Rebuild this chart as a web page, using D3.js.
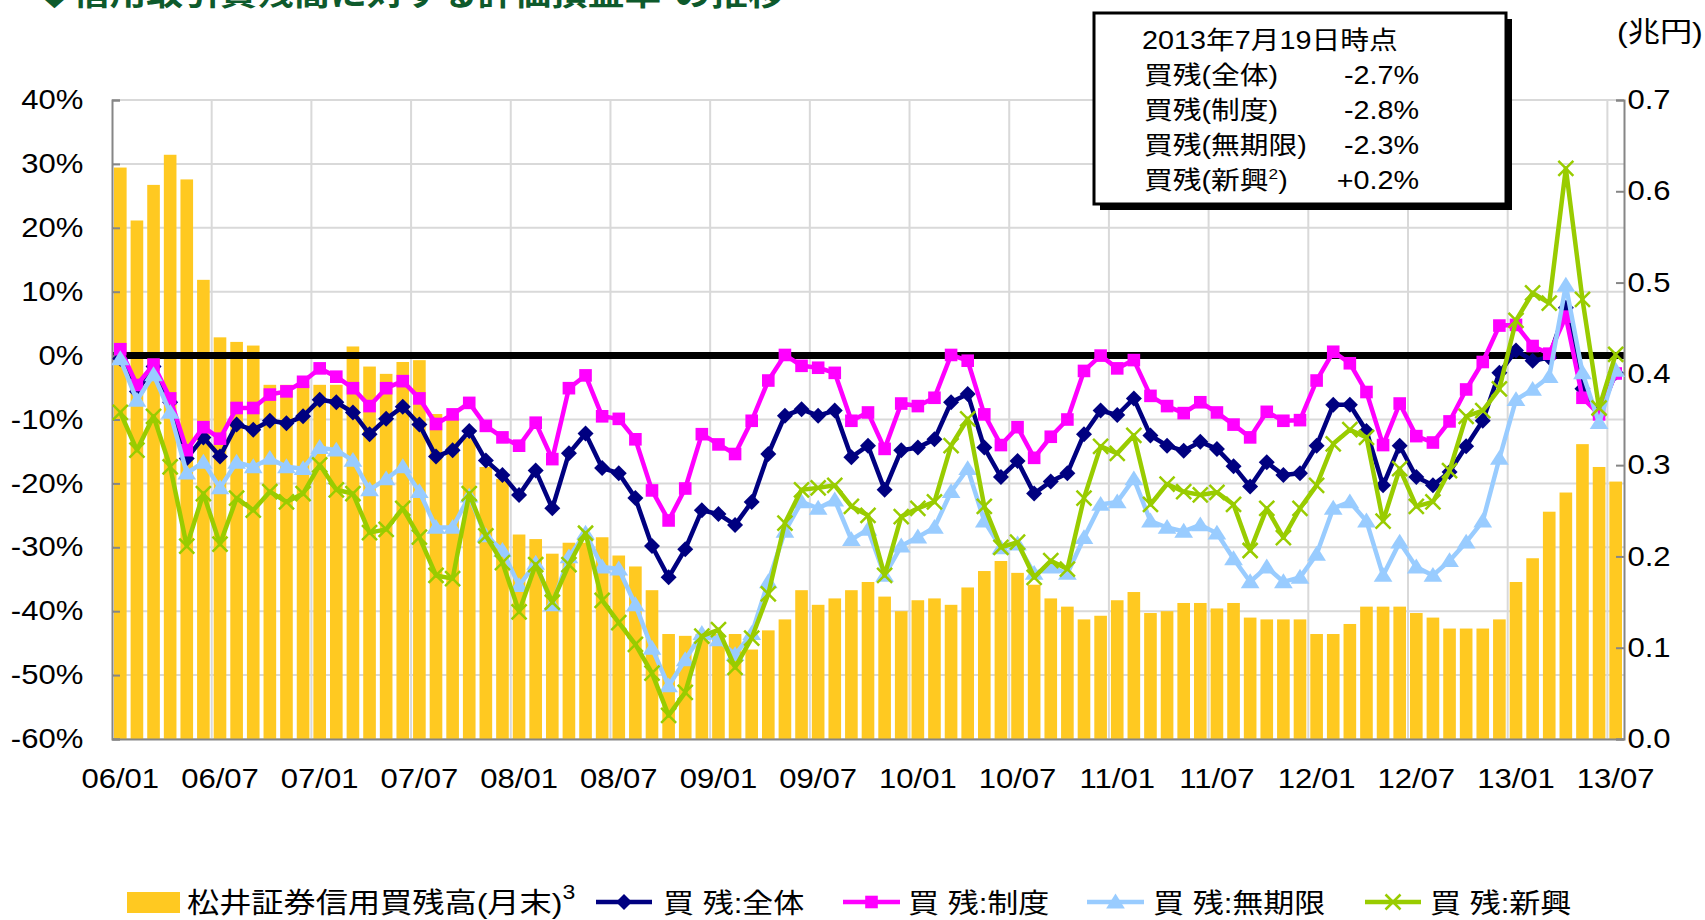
<!DOCTYPE html>
<html>
<head>
<meta charset="utf-8">
<script src="https://cdn.jsdelivr.net/npm/d3@7"></script>
<style>
  body { margin: 0; background: #fff; }
  svg text { font-family: "Liberation Sans", Arial, "Noto Sans CJK JP", sans-serif; fill: #000; }
</style>
</head>
<body>
<svg id="chart" width="1705" height="920"></svg>
<script>
'use strict';

// Month categories 06/01 .. 13/07
var months = [];
for (var yy = 6; yy <= 13; yy++) {
  for (var mm = 1; mm <= 12; mm++) {
    if (yy === 13 && mm > 7) break;
    months.push((yy < 10 ? "0" : "") + yy + "/" + (mm < 10 ? "0" : "") + mm);
  }
}

var tickLabels = ["06/01", "06/07", "07/01", "07/07", "08/01", "08/07", "09/01", "09/07",
  "10/01", "10/07", "11/01", "11/07", "12/01", "12/07", "13/01", "13/07"];

var leftTicks = [40, 30, 20, 10, 0, -10, -20, -30, -40, -50, -60];
var rightTicks = [0.7, 0.6, 0.5, 0.4, 0.3, 0.2, 0.1, 0.0];

// 松井証券信用買残高(月末) (兆円)
var balance = [
  0.626, 0.568, 0.607, 0.640, 0.613, 0.503, 0.440, 0.435, 0.431, 0.388, 0.388, 0.388,
  0.388, 0.388, 0.430, 0.408, 0.400, 0.413, 0.415, 0.356, 0.350, 0.330, 0.298, 0.285,
  0.224, 0.219, 0.203, 0.215, 0.215, 0.221, 0.201, 0.189, 0.163, 0.115, 0.113, 0.115,
  0.115, 0.115, 0.098, 0.119, 0.131, 0.163, 0.147, 0.154, 0.163, 0.172, 0.156, 0.140,
  0.152, 0.154, 0.147, 0.166, 0.184, 0.195, 0.182, 0.169, 0.154, 0.145, 0.131, 0.135,
  0.152, 0.161, 0.138, 0.140, 0.149, 0.149, 0.143, 0.149, 0.133, 0.131, 0.131, 0.131,
  0.115, 0.115, 0.126, 0.145, 0.145, 0.145, 0.138, 0.133, 0.121, 0.121, 0.121, 0.131,
  0.172, 0.198, 0.249, 0.270, 0.323, 0.298, 0.282
];

// 買残:全体 (%)
var zentai = [
  -0.5, -5.6, -1.7, -7.3, -16.1, -12.8, -15.8, -10.8, -11.6, -10.2, -10.6, -9.5,
  -6.9, -7.3, -8.9, -12.3, -9.9, -8.0, -10.8, -15.8, -14.8, -11.8, -16.4, -18.7,
  -21.8, -18.0, -23.9, -15.3, -12.2, -17.6, -18.4, -22.3, -29.8, -34.7, -30.3, -24.2,
  -24.8, -26.5, -22.9, -15.4, -9.4, -8.4, -9.4, -8.6, -15.9, -14.1, -21.0, -14.8,
  -14.4, -13.1, -7.3, -6.0, -14.4, -19.0, -16.5, -21.6, -19.7, -18.4, -12.3, -8.6,
  -9.3, -6.7, -12.5, -14.1, -14.9, -13.5, -14.6, -17.3, -20.5, -16.7, -18.7, -18.4,
  -14.1, -7.7, -7.7, -11.8, -20.3, -14.1, -19.0, -20.3, -18.2, -14.2, -10.2, -2.7,
  0.8, -0.8, -0.3, 7.5, -5.2, -9.2, -2.7
];

// 買残:制度 (%)
var seido = [
  1.0, -4.6, -1.4, -6.7, -14.8, -11.2, -13.0, -8.2, -8.2, -6.1, -5.6, -4.1,
  -2.0, -3.3, -5.1, -7.9, -5.1, -4.0, -6.7, -10.7, -9.2, -7.4, -11.0, -12.8,
  -14.1, -10.5, -16.2, -5.1, -3.1, -9.5, -9.9, -13.1, -21.1, -25.8, -20.8, -12.3,
  -13.9, -15.4, -10.2, -3.9, 0.1, -1.6, -1.9, -2.7, -10.2, -8.9, -14.6, -7.5,
  -7.9, -6.6, 0.1, -0.8, -9.2, -14.0, -11.2, -16.0, -12.7, -10.0, -2.4, 0.0,
  -2.0, -0.7, -6.3, -7.9, -9.0, -7.3, -8.9, -10.8, -12.8, -8.8, -10.2, -10.1,
  -3.9, 0.6, -1.2, -5.7, -14.0, -7.5, -12.6, -13.6, -10.3, -5.3, -1.0, 4.7,
  4.8, 1.5, 0.3, 6.1, -6.6, -9.2, -2.8
];

// 買残:無期限 (%)
var mukigen = [
  -0.5, -7.0, -3.0, -8.9, -18.4, -16.7, -20.7, -16.7, -17.4, -16.1, -17.4, -17.7,
  -14.4, -14.8, -16.4, -21.0, -19.3, -17.4, -21.3, -26.9, -26.9, -22.0, -28.2, -30.5,
  -36.0, -32.5, -39.0, -31.5, -27.8, -33.1, -33.4, -39.0, -45.8, -51.7, -47.6, -43.5,
  -44.5, -46.8, -43.5, -35.4, -27.5, -22.9, -23.9, -22.6, -28.8, -27.2, -34.4, -29.8,
  -28.4, -26.9, -21.3, -17.7, -25.9, -30.1, -29.5, -34.1, -33.1, -34.1, -28.5, -23.3,
  -22.9, -19.3, -25.9, -26.9, -27.5, -26.5, -27.8, -31.8, -35.4, -33.1, -35.4, -34.7,
  -31.1, -23.9, -22.9, -25.9, -34.4, -29.2, -33.1, -34.4, -32.1, -29.2, -25.9, -16.1,
  -6.9, -5.3, -3.3, 11.0, -2.7, -10.5, -2.3
];

// 買残:新興 (%)
var shinko = [
  -8.9, -14.8, -9.5, -17.4, -29.8, -21.6, -29.5, -22.3, -24.2, -21.3, -22.9, -21.6,
  -17.1, -21.0, -21.6, -27.7, -27.2, -23.9, -28.4, -34.4, -34.9, -21.6, -28.2, -32.4,
  -40.1, -32.7, -38.6, -32.7, -27.8, -38.3, -41.8, -45.2, -49.7, -56.3, -52.7, -43.9,
  -42.9, -48.8, -44.2, -37.3, -26.2, -21.0, -20.7, -20.3, -23.6, -25.0, -34.4, -25.2,
  -23.9, -22.9, -14.1, -9.9, -23.6, -30.0, -29.2, -34.7, -32.1, -33.4, -22.3, -14.2,
  -15.3, -12.5, -23.3, -20.1, -21.3, -21.8, -21.4, -23.3, -30.5, -23.9, -28.5, -23.9,
  -20.3, -13.8, -11.6, -12.8, -25.9, -17.7, -23.6, -22.9, -18.0, -9.5, -8.6, -5.2,
  5.5, 9.8, 8.2, 29.3, 8.8, -8.2, 0.2
];

var seriesNames = ["買 残:全体", "買 残:制度", "買 残:無期限", "買 残:新興"];
var boxLabels = ["買残(全体)", "買残(制度)", "買残(無期限)", "買残(新興"];
var boxValues = ["-2.7%", "-2.8%", "-2.3%", "+0.2%"];

var SX = 1.15; // the original picture has horizontally widened lettering

var svg = d3.select("#chart");

var margin = {top: 100, right: 81, bottom: 181, left: 112},
  width = 1705 - margin.left - margin.right,
  height = 920 - margin.top - margin.bottom;

var x = d3.scaleBand()
  .domain(months)
  .range([0, width])
  .paddingInner(0.24)
  .paddingOuter(0.12);

var y = d3.scaleLinear().domain([-60, 40]).range([height, 0]);
var yR = d3.scaleLinear().domain([0, 0.7]).range([height, 0]);

function cx(i) { return x(months[i]) + x.bandwidth() / 2; }

// text helper with horizontal stretch
function addText(parent, tx, ty, str, size, anchor, weight) {
  var g = parent.append("g")
    .attr("transform", "translate(" + tx + "," + ty + ") scale(" + SX + ",1)");
  return g.append("text")
    .attr("font-size", size)
    .attr("text-anchor", anchor || "start")
    .attr("font-weight", weight || "normal")
    .text(str);
}

// Title (cut off at top edge, as in the original)
var title = addText(svg, 36, 5, "◆信用取引買残高に対する評価損益率", 32, "start", "bold")
  .style("fill", "#0e5a2c");
title.append("tspan").attr("font-size", 20).attr("dy", -12).text("1");
title.append("tspan").attr("dy", 12).text("の推移");

var plot = svg.append("g")
  .attr("transform", "translate(" + margin.left + "," + margin.top + ")");

// Horizontal gridlines
plot.selectAll(".hgrid")
  .data(leftTicks)
  .enter().append("line")
  .attr("x1", 0).attr("x2", width)
  .attr("y1", function (d) { return y(d); })
  .attr("y2", function (d) { return y(d); })
  .style("stroke", "#d9d9d9")
  .style("stroke-width", 2);

// Vertical gridlines every 6 months
var vIdx = d3.range(6, 91, 6);
plot.selectAll(".vgrid")
  .data(vIdx)
  .enter().append("line")
  .attr("x1", function (i) { return x.step() * i; })
  .attr("x2", function (i) { return x.step() * i; })
  .attr("y1", 0).attr("y2", height)
  .style("stroke", "#d9d9d9")
  .style("stroke-width", 2);

// Bars
plot.selectAll(".bar")
  .data(balance)
  .enter().append("rect")
  .attr("x", function (d, i) { return x(months[i]); })
  .attr("y", function (d) { return yR(d); })
  .attr("width", x.bandwidth())
  .attr("height", function (d) { return height - yR(d); })
  .style("fill", "#ffc921");

// Zero line
plot.append("line")
  .attr("x1", 0).attr("x2", width)
  .attr("y1", y(0)).attr("y2", y(0))
  .style("stroke", "#000")
  .style("stroke-width", 7);

// Axes
var axisLeft = plot.append("g")
  .call(d3.axisLeft(y).tickValues(leftTicks).tickFormat(function (d) { return d + "%"; })
    .tickSize(-8).tickPadding(25));
var axisRight = plot.append("g")
  .attr("transform", "translate(" + width + ",0)")
  .call(d3.axisRight(yR).tickValues(rightTicks).tickFormat(d3.format(".1f"))
    .tickSize(-8).tickPadding(3));
var axisBottom = plot.append("g")
  .attr("transform", "translate(0," + height + ")")
  .call(d3.axisBottom(x).tickValues(tickLabels).tickSize(0).tickPadding(30));

[axisLeft, axisRight, axisBottom].forEach(function (a) {
  a.select(".domain").style("stroke", "#868686").style("stroke-width", 2);
  a.selectAll(".tick line").style("stroke", "#868686").style("stroke-width", 2);
  a.selectAll("text")
    .attr("font-size", 27)
    .attr("font-family", "'Liberation Sans', Arial, sans-serif")
    .style("fill", "#000")
    .attr("transform", "scale(" + SX + ",1)");
});

// Marker shapes
function diamond(s) { return "M0," + (-s) + "L" + s + ",0L0," + s + "L" + (-s) + ",0Z"; }
function square(s) { return "M" + (-s) + "," + (-s) + "h" + (2 * s) + "v" + (2 * s) + "h" + (-2 * s) + "Z"; }
function triangle(s) { return "M0," + (-s) + "L" + (s * 1.1) + "," + (s * 0.75) + "L" + (-s * 1.1) + "," + (s * 0.75) + "Z"; }
function cross(s) { return "M" + (-s) + "," + (-s) + "L" + s + "," + s + "M" + s + "," + (-s) + "L" + (-s) + "," + s; }

var series = [
  {name: seriesNames[0], values: zentai, color: "#000080", shape: diamond(8), stroke: false, lw: 4.5},
  {name: seriesNames[1], values: seido, color: "#ff00ff", shape: square(6.3), stroke: false, lw: 4.5},
  {name: seriesNames[2], values: mukigen, color: "#99ccff", shape: triangle(8.5), stroke: false, lw: 4.5},
  {name: seriesNames[3], values: shinko, color: "#99cc00", shape: cross(7.5), stroke: true, lw: 4.5}
];

var line = d3.line()
  .x(function (d, i) { return cx(i); })
  .y(function (d) { return y(d); });

series.forEach(function (s) {
  plot.append("path")
    .datum(s.values)
    .attr("d", line)
    .style("fill", "none")
    .style("stroke", s.color)
    .style("stroke-width", s.lw)
    .style("stroke-linejoin", "round");

  plot.selectAll(null)
    .data(s.values)
    .enter().append("path")
    .attr("transform", function (d, i) { return "translate(" + cx(i) + "," + y(d) + ")"; })
    .attr("d", s.shape)
    .style("fill", s.stroke ? "none" : s.color)
    .style("stroke", s.color)
    .style("stroke-width", s.stroke ? 2.5 : 0);
});

// Unit label for right axis
addText(svg, 1617, 42, "(兆円)", 28, "start");

// Info box
var box = svg.append("g");
box.append("rect")
  .attr("x", 1100).attr("y", 19).attr("width", 412).attr("height", 191)
  .style("fill", "#000");
box.append("rect")
  .attr("x", 1094).attr("y", 13).attr("width", 412).attr("height", 191)
  .style("fill", "#fff").style("stroke", "#000").style("stroke-width", 3);

addText(box, 1142, 49, "2013年7月19日時点", 25, "start");
boxLabels.forEach(function (lab, i) {
  var t = addText(box, 1144, 84 + i * 35, lab, 25, "start");
  if (i === 3) {
    t.append("tspan").attr("font-size", 15).attr("dy", -10).text("2");
    t.append("tspan").attr("dy", 10).text(")");
  }
  addText(box, 1419, 84 + i * 35, boxValues[i], 25, "end");
});

// Legend
var legend = svg.append("g");
legend.append("rect")
  .attr("x", 127).attr("y", 892).attr("width", 53).attr("height", 21)
  .style("fill", "#ffc921");
var lt = addText(legend, 187, 913, "松井証券信用買残高(月末)", 28, "start");
lt.append("tspan").attr("font-size", 20).attr("dy", -14).text("3");

var legendPos = [
  {x0: 596, x1: 652, tx: 663},
  {x0: 843, x1: 900, tx: 908},
  {x0: 1087, x1: 1144, tx: 1153},
  {x0: 1365, x1: 1421, tx: 1430}
];

series.forEach(function (s, i) {
  var p = legendPos[i];
  legend.append("line")
    .attr("x1", p.x0).attr("x2", p.x1)
    .attr("y1", 902).attr("y2", 902)
    .style("stroke", s.color)
    .style("stroke-width", 4.5);
  legend.append("path")
    .attr("transform", "translate(" + ((p.x0 + p.x1) / 2) + ",902)")
    .attr("d", s.shape)
    .style("fill", s.stroke ? "none" : s.color)
    .style("stroke", s.color)
    .style("stroke-width", s.stroke ? 2.5 : 0);
  addText(legend, p.tx, 913, s.name, 27, "start");
});
</script>
</body>
</html>
